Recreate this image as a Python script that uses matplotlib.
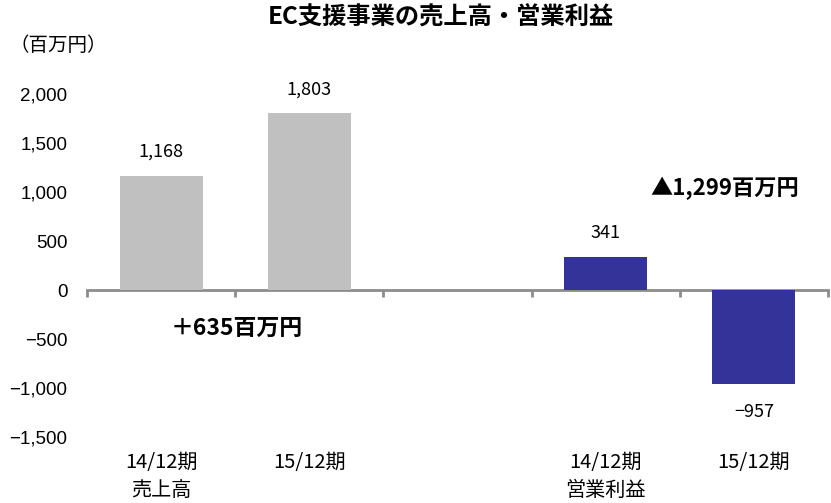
import matplotlib
matplotlib.use("Agg")
import matplotlib.pyplot as plt

plt.rcParams['font.family'] = ['Noto Sans CJK JP', 'DejaVu Sans']

periods = ["14/12期", "15/12期", "", "14/12期", "15/12期"]
groups = ["売上高", "", "", "営業利益", ""]
values = [1168, 1803, None, 341, -957]
colors = ["#C0C0C0", "#C0C0C0", "none", "#333399", "#333399"]
yticks = [-1500, -1000, -500, 0, 500, 1000, 1500, 2000]

fig = plt.figure(figsize=(8.31, 5.03), dpi=100)
ax = fig.add_axes([0.1047, 0.1312, 0.8917, 0.6819])

for i, v in enumerate(values):
    if v is None:
        continue
    ax.bar(i, v, width=0.56, color=colors[i], clip_on=False)
    off = 17 if v > 0 else -20
    ax.annotate(f"{v:,}".replace("-", "\u2212"), (i, v), xytext=(0, off),
                textcoords="offset points", ha="center", va="center",
                fontsize=13, color="#000000")

ax.set_xlim(-0.5, 4.5)
ax.set_ylim(-1500, 2000)

for s in ["top", "right", "left"]:
    ax.spines[s].set_visible(False)
ax.spines["bottom"].set_position(("data", 0))
ax.spines["bottom"].set_color("#8C8C8C")
ax.spines["bottom"].set_linewidth(2)
ax.spines["bottom"].set_zorder(0)

ax.set_xticks([i - 0.5 for i in range(len(values) + 1)])
ax.set_xticklabels([])
ax.tick_params(axis="x", direction="out", length=5, width=2, color="#8C8C8C")

ax.set_yticks(yticks)
ax.set_yticklabels([f"{v:,}".replace("-", "\u2212") for v in yticks],
                   family="Liberation Sans", fontsize=13.5)
ax.tick_params(axis="y", length=0, pad=14)

tr = ax.get_xaxis_transform()
for i, p in enumerate(periods):
    ax.text(i, -0.073, p, transform=tr, ha="center", va="center", fontsize=14.5)
    ax.text(i, -0.155, groups[i], transform=tr, ha="center", va="center", fontsize=14.5)

fig.text(0.53, 0.964, "EC支援事業の売上高・営業利益", ha="center", va="center",
         fontsize=17.5, fontweight="bold")
fig.text(0.012, 0.91, "（百万円）", ha="left", va="center", fontsize=14)
fig.text(0.285, 0.348, "＋635百万円", ha="center", va="center",
         fontsize=16.5, fontweight="bold")
fig.text(0.872, 0.626, "▲1,299百万円", ha="center", va="center",
         fontsize=16, fontweight="bold")

fig.savefig("out.png", dpi=100)
